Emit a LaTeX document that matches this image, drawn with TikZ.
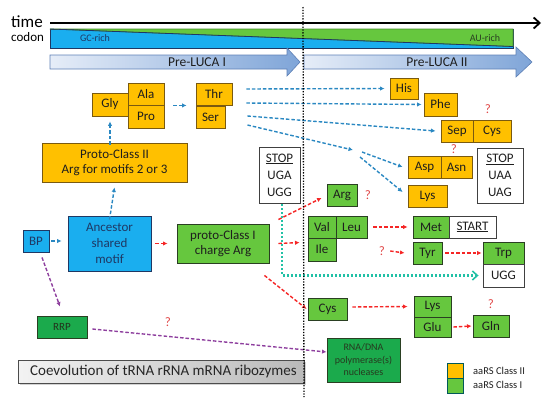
\documentclass[tikz,border=0pt]{standalone}
\usepackage{fontspec}
\setmainfont{Carlito}
\usetikzlibrary{arrows.meta,shadows}
\definecolor{org}{HTML}{FFC000}
\definecolor{orgb}{HTML}{7A5A10}
\definecolor{grn}{HTML}{66C73E}
\definecolor{grnb}{HTML}{2A3F22}
\definecolor{dgrn}{HTML}{1BAA4C}
\definecolor{blu}{HTML}{1AAEEF}
\definecolor{navy}{HTML}{1F3864}
\definecolor{barc}{HTML}{2A88C2}
\definecolor{redc}{HTML}{F52525}
\definecolor{purc}{HTML}{8E3F9E}
\definecolor{tealc}{HTML}{22C1A6}
\definecolor{qc}{HTML}{E04848}
\definecolor{txt}{HTML}{1E1E1E}
\definecolor{lucal}{HTML}{E6EDF8}
\definecolor{lucar}{HTML}{7FA5D8}
\definecolor{lucab}{HTML}{5E80B6}
\begin{document}
\begin{tikzpicture}[x=1pt,y=-1pt,
  base/.style={rectangle, inner sep=0pt, align=center, font=\fontsize{13}{15}\selectfont, line width=0.9pt, text=txt},
  obox/.style={base, fill=org, draw=orgb},
  gbox/.style={base, fill=grn, draw=grnb},
  dgbox/.style={base, fill=dgrn, draw=grnb},
  wbox/.style={base, fill=white, draw=black!75},
  sz/.style 2 args={minimum width=#1, minimum height=#2},
  barrow/.style={draw=barc, line width=1.4pt, dash pattern=on 3.5pt off 2pt, -{Latex[length=4.5pt,width=4.5pt]}},
  rarrow/.style={draw=redc, line width=1.4pt, dash pattern=on 3.5pt off 2pt, -{Latex[length=4.5pt,width=4.5pt]}},
  parrow/.style={draw=purc, line width=1.4pt, dash pattern=on 3.5pt off 2pt, -{Latex[length=4.5pt,width=4.5pt]}},
  qmark/.style={inner sep=0pt, text=qc, font=\fontsize{13}{13}\selectfont},
  lbl/.style={inner sep=0pt, font=\fontsize{13.5}{15}\selectfont, text=txt}
]
\useasboundingbox (0,0) rectangle (550,407);

% time axis
\node[inner sep=0pt, font=\fontsize{17}{17}\selectfont, anchor=base west] (timelbl) at (11,27) {time};
\node[inner sep=0pt, font=\fontsize{13}{13}\selectfont, anchor=base west] (codonlbl) at (11,41) {codon};
\coordinate (t0) at (50,23);
\coordinate (t1) at (541,23);
\draw[line width=1.8pt, -{Straight Barb[length=6pt,width=11pt,line width=1.8pt]}] (t0) -- (t1);

% codon bar
\path[fill=blu, draw=navy, line width=0.8pt] (50,29) rectangle (513,48);
\path[fill=grn, draw=grn!70!black, line width=0.6pt] (50,29) -- (513,29) -- (513,46.5) -- cycle;
\draw[navy, line width=0.8pt] (50,29) -- (513,46.5);
\node[inner sep=0pt, font=\fontsize{10}{10}\selectfont, text=navy] (gc) at (95,38.5) {GC-rich};
\node[inner sep=0pt, font=\fontsize{10}{10}\selectfont, text=grnb] (au) at (485,38.5) {AU-rich};

% Pre-LUCA arrows
\path[left color=lucal, right color=lucar, draw=lucab, line width=0.6pt]
  (50,55) -- (287,55) -- (287,48) -- (300,62) -- (287,76) -- (287,69) -- (50,69) -- cycle;
\node[lbl] (luca1) at (197,62) {Pre-LUCA I};
\path[left color=lucal, right color=lucar, draw=lucab, line width=0.6pt]
  (304,55) -- (516,55) -- (516,47) -- (532,62) -- (516,77) -- (516,69) -- (304,69) -- cycle;
\node[lbl] (luca2) at (437,62) {Pre-LUCA II};

% Class II nodes (orange)
\node[obox, sz={36}{23}] (gly) at (110,104.5) {Gly};
\node[obox, sz={36}{22}] (ala) at (146,94) {Ala};
\node[obox, sz={36}{23}] (pro) at (146,116.5) {Pro};
\node[obox, sz={36}{22}] (thr) at (214,94) {Thr};
\node[obox, sz={29}{22}] (ser) at (210.5,117) {Ser};
\node[obox, sz={145}{39}, font=\fontsize{13}{15.5}\selectfont] (p2) at (114.5,162.5) {Proto-Class II\\Arg for motifs 2 or 3};
\node[obox, sz={28}{21}] (his) at (404,88.5) {His};
\node[obox, sz={33}{23}] (phe) at (440.5,104.5) {Phe};
\node[obox, sz={32}{22}] (sep) at (457,131) {Sep};
\node[obox, sz={38}{22}] (cyso) at (492,131) {Cys};
\node[obox, sz={33}{22}] (asp) at (424.5,167) {Asp};
\node[obox, sz={31}{22}] (asn) at (456.5,167) {Asn};
\node[obox, sz={39}{22}] (lyso) at (427.5,196) {Lys};

% stop boxes
\node[wbox, sz={41}{56}, font=\fontsize{13}{17}\selectfont] (stop1) at (279.5,175) {\underline{STOP}\\UGA\\UGG};
\node[wbox, sz={46}{55}, font=\fontsize{13}{17}\selectfont] (stop2) at (500,175.5) {\underline{STOP}\\UAA\\UAG};

% ancestor area
\node[base, fill=blu, draw=navy, sz={26}{22}, text=navy] (bp) at (36,241) {BP};
\node[base, fill=blu, draw=navy, sz={83}{55}, text=navy, font=\fontsize{13}{16}\selectfont] (anc) at (109.5,243.5) {Ancestor\\shared\\motif};
\node[gbox, sz={92}{39}, font=\fontsize{13}{15.5}\selectfont] (p1) at (223,243.5) {proto-Class I\\charge Arg};
\node[dgbox, sz={50}{22}, font=\fontsize{11}{11}\selectfont, text=grnb!80!black] (rrp) at (62,327) {RRP};
\node[dgbox, sz={73}{44}, font=\fontsize{10}{12.5}\selectfont, text=grnb!90!black] (rna) at (363.5,360) {RNA/DNA\\polymerase(s)\\nucleases};
\node[base, draw=black!70, left color=black!5, right color=black!27, sz={286}{23}, font=\fontsize{15}{15}\selectfont, anchor=west, text=black!85,
  drop shadow={shadow xshift=1.5pt, shadow yshift=-1.5pt, opacity=0.35}] (coev) at (18,371.5) {\hspace*{4pt}Coevolution of tRNA rRNA mRNA ribozymes\hfill};

% Class I nodes (green)
\node[gbox, sz={30}{22}] (arg) at (342,195) {Arg};
\node[gbox, sz={28}{22}] (val) at (322,227) {Val};
\node[gbox, sz={31}{22}] (leu) at (351.5,227) {Leu};
\node[gbox, sz={28}{23}] (ile) at (322,249.5) {Ile};
\node[gbox, sz={36}{22}] (met) at (431,227) {Met};
\node[wbox, sz={47}{22}] (start) at (472.5,227) {\underline{START}};
\node[gbox, sz={29}{22}] (tyr) at (427.5,253) {Tyr};
\node[gbox, sz={41}{22}] (trp) at (503.5,253) {Trp};
\node[wbox, sz={41}{23}] (ugg) at (503.5,275.5) {UGG};
\node[gbox, sz={39}{22}] (cysg) at (327.5,309) {Cys};
\node[gbox, sz={37}{21}] (lysg) at (432.5,306.5) {Lys};
\node[gbox, sz={37}{20}] (glu) at (432.5,327) {Glu};
\node[gbox, sz={36}{22}] (gln) at (491,326) {Gln};

% question marks
\node[qmark] (q1) at (168,322) {?};
\node[qmark] (q2) at (368,195) {?};
\node[qmark] (q3) at (488,109) {?};
\node[qmark] (q4) at (454,149) {?};
\node[qmark] (q5) at (382,251) {?};
\node[qmark] (q6) at (491,304) {?};

% legend
\node[base, fill=org, draw=teal!70!black, sz={16}{15}] (leg2) at (455,370.5) {};
\node[base, fill=grn, draw=teal!70!black, sz={16}{15}] (leg1) at (455,385.5) {};
\node[inner sep=0pt, font=\fontsize{10.5}{10.5}\selectfont, anchor=west, text=txt] (leg2t) at (473,371) {aaRS Class II};
\node[inner sep=0pt, font=\fontsize{10.5}{10.5}\selectfont, anchor=west, text=txt] (leg1t) at (473,385) {aaRS Class I};

% blue dashed arrows
\draw[barrow] ([xshift=2pt]bp.east) -- ([xshift=-6pt]anc.west |- bp.east);
\draw[barrow] ([yshift=-4pt]anc.north) -- ([yshift=-5pt]p2.south);
\draw[barrow] ([xshift=-4.5pt,yshift=-2pt]p2.north) -- ([xshift=0pt,yshift=-5pt]gly.south);
\draw[barrow] ([xshift=9pt]ala.south east) -- ([xshift=-9pt]thr.south west);
\draw[barrow] ([xshift=14pt,yshift=5pt]thr.east) -- ([xshift=-5pt]his.west);
\draw[barrow] ([xshift=14pt,yshift=-9pt]thr.east) -- ([xshift=-2pt]phe.west);
\draw[barrow] ([xshift=22pt,yshift=1pt]ser.east) -- ([xshift=-5pt]sep.west);
\coordinate (br) at (353,150);
\draw[barrow] ([xshift=22pt,yshift=-8pt]ser.east) -- (br);
\draw[barrow] ([xshift=9pt,yshift=-2pt]br) -- ([xshift=-5pt]asp.west);
\draw[barrow] ([xshift=7pt,yshift=-7pt]br) -- ([xshift=-5pt,yshift=4pt]lyso.west);

% red dashed arrows
\draw[rarrow] ([xshift=4pt]anc.east) -- ([xshift=-9pt]p1.west);
\draw[rarrow] ([xshift=9pt,yshift=4pt]p1.north east) -- ([xshift=-5pt,yshift=-3pt]arg.west);
\draw[rarrow] ([xshift=9pt]p1.east) -- ([xshift=-8pt,yshift=-5pt]ile.north west);
\draw[rarrow] ([xshift=-5pt,yshift=-12pt]p1.south east) -- ([xshift=-1pt]cysg.west);
\draw[rarrow] ([xshift=6pt]leu.east) -- ([xshift=-5pt]met.west);
\draw[rarrow] ([xshift=5pt]q5.east) -- ([xshift=-8pt]tyr.west);
\draw[rarrow] ([xshift=3pt]tyr.east) -- ([xshift=-1pt]trp.west);
\draw[rarrow] ([xshift=5pt,yshift=2pt]cysg.east) -- ([xshift=-6pt]lysg.west);
\draw[rarrow] ([xshift=2pt]glu.east) -- ([xshift=-1pt]gln.west);

% purple dashed arrows
\draw[parrow] ([xshift=6pt,yshift=-5pt]bp.south) -- ([xshift=-2pt,yshift=9pt]rrp.north);
\draw[parrow] ([xshift=5pt,yshift=-2pt]rrp.east) -- ([yshift=8pt]rna.west);

% teal dotted
\draw[tealc, line width=2.2pt, dash pattern=on 1.8pt off 2.2pt, -{Straight Barb[length=5pt,width=9pt,line width=1.6pt]}]
  ([xshift=2.5pt,yshift=-1pt]stop1.south) |- ([xshift=-4pt]ugg.west);

% vertical dotted separator
\coordinate (v0) at (303,7);
\coordinate (v1) at (304,397);
\draw[black, line width=1.3pt, dash pattern=on 1.3pt off 1.5pt] (v0) -- (v1);
\end{tikzpicture}
\end{document}
